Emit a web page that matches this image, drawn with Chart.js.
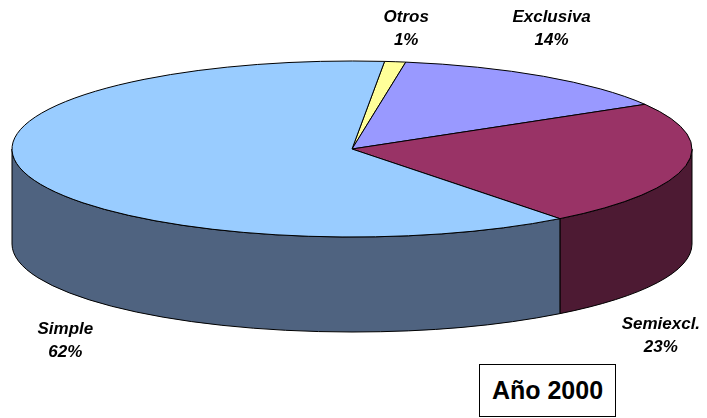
<!DOCTYPE html>
<html>
<head>
<meta charset="utf-8">
<script src="https://cdn.jsdelivr.net/npm/chart.js@4.4.1/dist/chart.umd.min.js"></script>
<style>
    html, body { margin: 0; padding: 0; background: #fff; }
    #wrap { position: relative; width: 707px; height: 418px; }
    #yearBox {
        position: absolute; left: 479px; top: 364px; width: 135px; height: 51px;
        border: 1px solid #000; background: #fff;
        font: bold 25px Arial, 'Liberation Sans', sans-serif;
        display: flex; align-items: center; justify-content: center;
    }
</style>
</head>
<body>
<div id="wrap">
    <canvas id="pieChart" width="707" height="418"></canvas>
    <div id="yearBox">Año 2000</div>
</div>
<script>
// Data (clockwise from the top)
const categories = ['Otros', 'Exclusiva', 'Semiexcl.', 'Simple'];
const shares = [1, 14, 23, 62];

// Colours of the top faces and of the outer walls
const topColors = ['#FFFF99', '#9999FF', '#993366', '#99CCFF'];
const sideColors = ['#80804D', '#4D4D80', '#4D1A33', '#4F6380'];

// 3D look: squashed ellipse plus a wall
const TILT = { rx: 340, ry: 88, depth: 95 };
// label shift from the slice rim (mid angle)
const labelNudge = [[11, -40], [8, -54], [-25, 68], [40, 66]];

const total = shares.reduce((a, b) => a + b, 0);

function frontPieces(s, e) {
    const out = [];
    for (let k = -1; k <= 2; k++) {
        const a = Math.max(s, 2 * Math.PI * k);
        const b = Math.min(e, 2 * Math.PI * k + Math.PI);
        if (b > a) out.push([a, b]);
    }
    return out;
}

const pie3d = {
    id: 'pie3d',
    beforeDatasetsDraw(chart) {
        const ctx = chart.ctx;
        const arcs = chart.getDatasetMeta(0).data;
        const cx = arcs[0].x, cy = arcs[0].y;
        const { rx, ry, depth } = TILT;
        ctx.save();
        ctx.lineWidth = 1;
        ctx.strokeStyle = '#000';
        ctx.lineJoin = 'round';

        // outer walls (front half only)
        arcs.forEach((arc, i) => {
            frontPieces(arc.startAngle, arc.endAngle).forEach(([a, b]) => {
                ctx.beginPath();
                ctx.ellipse(cx, cy, rx, ry, 0, a, b);
                ctx.ellipse(cx, cy + depth, rx, ry, 0, b, a, true);
                ctx.closePath();
                ctx.fillStyle = sideColors[i];
                ctx.fill();
                ctx.stroke();
            });
        });

        // top faces
        arcs.forEach((arc, i) => {
            ctx.beginPath();
            ctx.moveTo(cx, cy);
            ctx.ellipse(cx, cy, rx, ry, 0, arc.startAngle, arc.endAngle);
            ctx.closePath();
            ctx.fillStyle = topColors[i];
            ctx.fill();
            ctx.stroke();
        });
        ctx.restore();
        return false;
    },
    afterDraw(chart) {
        const ctx = chart.ctx;
        const arcs = chart.getDatasetMeta(0).data;
        const cx = arcs[0].x, cy = arcs[0].y;
        const { rx, ry, depth } = TILT;
        ctx.save();
        ctx.font = 'italic bold 17px Arial, "Liberation Sans", sans-serif';
        ctx.textAlign = 'center';
        ctx.fillStyle = '#000';
        arcs.forEach((arc, i) => {
            const m = (arc.startAngle + arc.endAngle) / 2;
            let x = cx + rx * Math.cos(m);
            let y = cy + ry * Math.sin(m);
            if (Math.sin(m) > 0) y += depth;
            x += labelNudge[i][0];
            y += labelNudge[i][1];
            ctx.fillText(categories[i], x, y);
            ctx.fillText(Math.round(shares[i] / total * 100) + '%', x, y + 23);
        });
        ctx.restore();
    }
};

const ctx = document.getElementById('pieChart').getContext('2d');
new Chart(ctx, {
    type: 'pie',
    data: {
        labels: categories,
        datasets: [{
            data: shares,
            backgroundColor: topColors,
            borderColor: '#000',
            borderWidth: 1
        }]
    },
    options: {
        responsive: false,
        animation: false,
        rotation: 5.5,
        layout: { padding: { left: 0, right: 3, top: 0, bottom: 120 } },
        plugins: {
            legend: { display: false },
            tooltip: { enabled: false }
        }
    },
    plugins: [pie3d]
});
</script>
</body>
</html>
